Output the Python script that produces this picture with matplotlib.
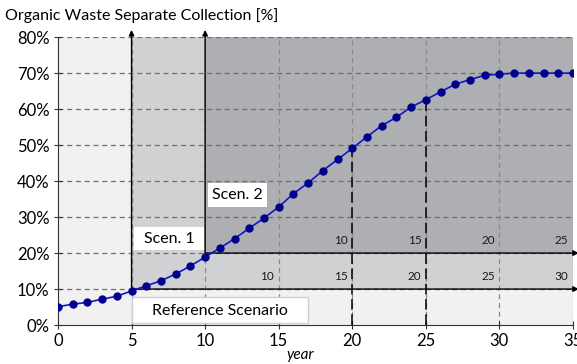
import matplotlib.pyplot as plt
from matplotlib.patches import Rectangle

years = list(range(0, 36))
share = [5.1, 5.8, 6.3, 7.2, 8.0, 9.5, 10.9, 12.3, 14.2, 16.4,
         18.9, 21.4, 24.0, 26.9, 29.7, 32.8, 36.5, 39.5, 42.9, 46.0,
         49.1, 52.3, 55.4, 57.7, 60.6, 62.6, 64.8, 66.9, 68.2, 69.4,
         69.7, 70.0, 70.0, 70.0, 70.0, 70.0]

scen_start = {'Scen. 1': 5, 'Scen. 2': 10}
scen_level = {'Scen. 1': 10, 'Scen. 2': 20}
marks = [15, 20, 25, 30, 35]

plt.rcParams['font.family'] = ['Lato', 'DejaVu Sans']

fig = plt.figure(figsize=(5.77, 3.64), dpi=100)
ax = fig.add_axes([0.1005, 0.107, 0.8925, 0.791])
ax.set_xlim(0, 35)
ax.set_ylim(0, 80)

# background regions
ax.axvspan(0, 35, color='#f1f1f1', zorder=0)
ax.fill_between([5, 35], 10, 80, color='#d0d1d3', lw=0, zorder=0.5)
ax.fill_between([10, 35], 20, 80, color='#aeafb2', lw=0, zorder=0.6)

# grid
for y in range(10, 81, 10):
    ax.plot([0, 35], [y, y], ls=(0, (4, 3)), color='#6e6e6e', lw=0.9, zorder=1)
for x in range(5, 36, 5):
    ax.plot([x, x], [0, 80], ls=(0, (4, 3)), color='#8a8a8a', lw=0.9, zorder=1)

# scenario arrows
for name in scen_start:
    x0 = scen_start[name]
    y0 = scen_level[name]
    ax.annotate('', xy=(x0, 82), xytext=(x0, y0), annotation_clip=False,
                arrowprops=dict(arrowstyle='-|>', color='black', lw=1,
                                mutation_scale=8, shrinkA=0, shrinkB=0), zorder=3)
    ax.annotate('', xy=(35.4, y0), xytext=(x0, y0), annotation_clip=False,
                arrowprops=dict(arrowstyle='-|>', color='black', lw=1,
                                mutation_scale=8, shrinkA=0, shrinkB=0), zorder=3)
    for m in marks:
        if m - x0 >= 10:
            ax.text(m - 0.3, y0 + 2.0, str(m - x0), ha='right', va='bottom',
                    fontsize=8.5, color='#1a1a1a', zorder=4)

# drop lines
for x in [20, 25]:
    ax.plot([x, x], [0, share[x]], ls=(0, (7, 3)), color='black', lw=1.1, zorder=3)

ax.plot(years, share, color='#1414c8', lw=1.2, marker='o', markersize=5,
        markerfacecolor='#00008b', markeredgecolor='#00008b', zorder=5)

# label boxes
ax.add_patch(Rectangle((5.05, 0.5), 11.95, 7.3, facecolor='white',
                       edgecolor='#cfcfcf', lw=1, zorder=6))
ax.text(11.0, 4.0, 'Reference Scenario', ha='center', va='center',
        fontsize=11.5, zorder=7)
ax.add_patch(Rectangle((5.15, 20.8), 4.8, 6.4, facecolor='white',
                       edgecolor='none', zorder=6))
ax.text(7.55, 24.0, 'Scen. 1', ha='center', va='center', fontsize=11.5, zorder=7)
ax.add_patch(Rectangle((10.2, 32.8), 4.0, 6.6, facecolor='white',
                       edgecolor='none', zorder=6))
ax.text(12.2, 36.1, 'Scen. 2', ha='center', va='center', fontsize=11.5, zorder=7)

for s in ['top', 'right']:
    ax.spines[s].set_visible(False)
for s in ['left', 'bottom']:
    ax.spines[s].set_color('#333333')
    ax.spines[s].set_zorder(4)

ax.set_xticks(range(0, 36, 5))
ax.set_yticks(range(0, 81, 10))
ax.set_yticklabels([f'{v}%' for v in range(0, 81, 10)])
ax.tick_params(direction='inout', length=6, labelsize=12, color='#333333', pad=3)

fig.text(5 / 577, 1 - 16 / 364, 'Organic Waste Separate Collection [%]', ha='left',
         va='center', fontsize=11.5)
fig.text(300 / 577, 1 - 355 / 364, 'year', ha='center', va='center',
         fontsize=11, style='italic')

fig.savefig('out.png', dpi=100)
